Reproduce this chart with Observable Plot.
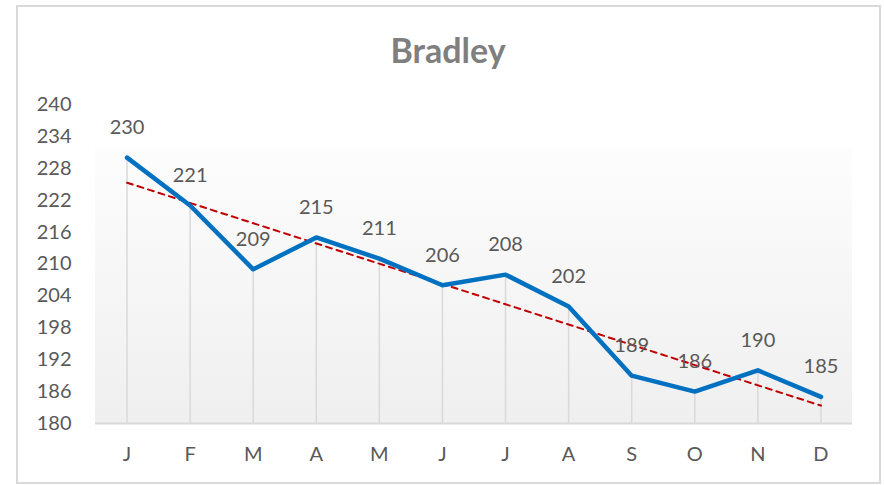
<!DOCTYPE html>
<html>
<head>
<meta charset="utf-8">
<script src="https://cdn.jsdelivr.net/npm/d3@7"></script>
<script src="https://cdn.jsdelivr.net/npm/@observablehq/plot@0.6"></script>
<style>
  html, body { margin: 0; padding: 0; background: #fff; }
  #wrap { position: relative; width: 884px; height: 485px; overflow: hidden; font-family: Lato, "Open Sans", sans-serif; }
  #border { position: absolute; left: 16px; top: 5px; width: 865px; height: 479px; box-sizing: border-box; border: 2px solid #d9d9d9; }
  #title { position: absolute; left: 448px; top: 33px; transform: translateX(-50%); font: bold 34px/34px Lato, sans-serif; color: #7f7f7f; white-space: nowrap; }
  #chart { position: absolute; left: 0; top: 90px; }
</style>
</head>
<body>
<div id="wrap">
  <div id="border"></div>
  <div id="title">Bradley</div>
  <div id="chart"></div>
</div>
<script>
const title = "Bradley";
const months = ["J", "F", "M", "A", "M", "J", "J", "A", "S", "O", "N", "D"];
const values = [230, 221, 209, 215, 211, 206, 208, 202, 189, 186, 190, 185];
const yTicks = [180, 186, 192, 198, 204, 210, 216, 222, 228, 234, 240];
const yDomain = [180, 240];
const plotAreaTop = 232; // top of the shaded plot-area background

const data = values.map((v, i) => ({i, m: months[i], v}));
const idx = months.map((_, i) => i);

const plot = Plot.plot({
  width: 884,
  height: 395,
  marginLeft: 95,
  marginRight: 32,
  marginTop: 14,
  marginBottom: 62,
  style: {fontFamily: "Lato, 'Open Sans', sans-serif", fontSize: "20px", color: "#595959", background: "transparent"},
  x: {domain: [-0.5, 11.5], ticks: idx, tickFormat: i => months[i], tickSize: 0, tickPadding: 23, label: null},
  y: {domain: yDomain, ticks: yTicks, tickSize: 0, tickPadding: 24, label: null},
  marks: [
    Plot.rect([0], {x1: -0.5, x2: 11.5, y1: yDomain[0], y2: plotAreaTop, fill: "url(#plotbg)"}),
    Plot.ruleX(data, {x: "i", y1: yDomain[0], y2: "v", stroke: "#d9d9d9", strokeWidth: 1.5}),
    Plot.ruleY([yDomain[0]], {stroke: "#d9d9d9", strokeWidth: 2}),
    Plot.linearRegressionY(data, {x: "i", y: "v", ci: 0, stroke: "#c00000", strokeWidth: 2, strokeDasharray: "6,5"}),
    Plot.line(data, {x: "i", y: "v", stroke: "#0070c0", strokeWidth: 4.5, strokeLinejoin: "round", strokeLinecap: "round"}),
    Plot.text(data, {x: "i", y: "v", text: d => String(d.v), dy: -30, fill: "#595959", fontSize: 20})
  ]
});

const ns = "http://www.w3.org/2000/svg";
const defs = document.createElementNS(ns, "defs");
const grad = document.createElementNS(ns, "linearGradient");
grad.setAttribute("id", "plotbg");
grad.setAttribute("x1", "0"); grad.setAttribute("y1", "0");
grad.setAttribute("x2", "0"); grad.setAttribute("y2", "1");
[["0%", "#fdfdfd"], ["100%", "#efefef"]].forEach(([o, c]) => {
  const s = document.createElementNS(ns, "stop");
  s.setAttribute("offset", o); s.setAttribute("stop-color", c);
  grad.appendChild(s);
});
defs.appendChild(grad);
plot.insertBefore(defs, plot.firstChild);

document.getElementById("chart").appendChild(plot);
</script>
</body>
</html>
